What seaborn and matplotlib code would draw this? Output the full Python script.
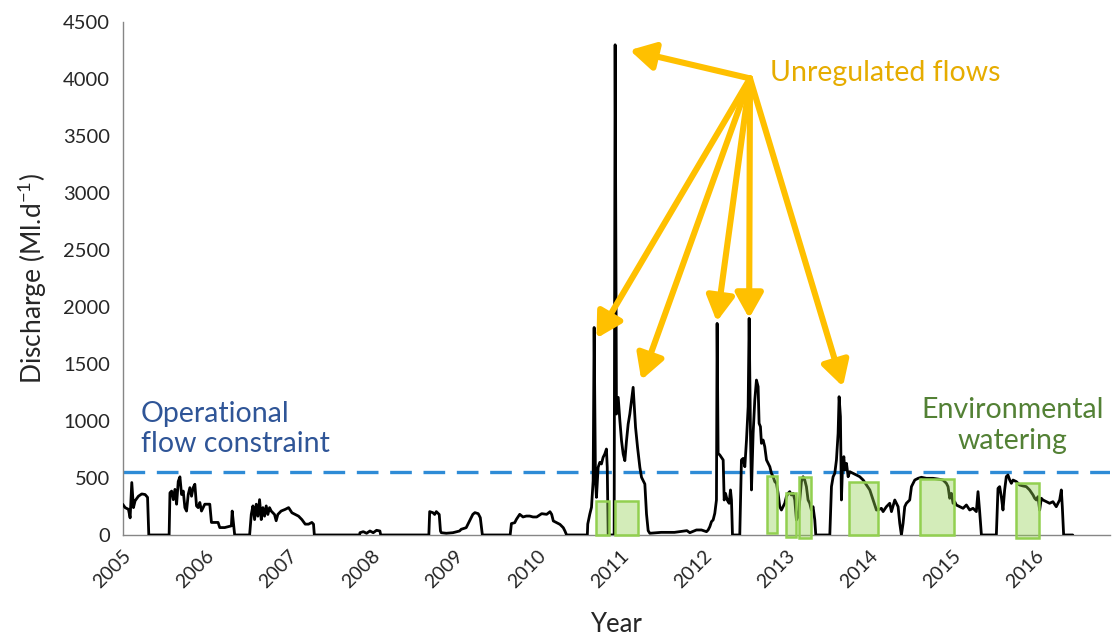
import numpy as np
import pandas as pd
import matplotlib
matplotlib.use("Agg")
import matplotlib.pyplot as plt
import seaborn as sns

# discharge series (decimal year, Ml/d)
flow_year = [
    2005.00, 2005.03, 2005.07, 2005.09, 2005.11, 2005.13, 2005.15, 2005.19, 2005.23, 2005.27,
    2005.30, 2005.315, 2005.56, 2005.57, 2005.59, 2005.61, 2005.63, 2005.65, 2005.67, 2005.69,
    2005.71, 2005.73, 2005.75, 2005.77, 2005.79, 2005.81, 2005.83, 2005.85, 2005.87, 2005.89,
    2005.91, 2005.93, 2005.95, 2005.99, 2006.05, 2006.07, 2006.15, 2006.17, 2006.23, 2006.31,
    2006.32, 2006.34, 2006.35, 2006.53, 2006.55, 2006.57, 2006.59, 2006.61, 2006.63, 2006.65,
    2006.67, 2006.69, 2006.71, 2006.73, 2006.75, 2006.77, 2006.79, 2006.83, 2006.85, 2006.87,
    2006.91, 2006.96, 2007.00, 2007.04, 2007.08, 2007.12, 2007.16, 2007.20, 2007.24, 2007.28,
    2007.30, 2007.31, 2007.855, 2007.86, 2007.90, 2007.94, 2007.98, 2008.02, 2008.06, 2008.10,
    2008.11, 2008.69, 2008.70, 2008.74, 2008.76, 2008.78, 2008.815, 2008.83, 2008.84, 2008.90,
    2008.98, 2009.06, 2009.08, 2009.14, 2009.18, 2009.22, 2009.245, 2009.285, 2009.31, 2009.335,
    2009.67, 2009.685, 2009.725, 2009.745, 2009.785, 2009.825, 2009.865, 2009.905, 2009.945, 2009.99,
    2010.05, 2010.11, 2010.15, 2010.17, 2010.19, 2010.23, 2010.27, 2010.31, 2010.33, 2010.35,
    2010.60, 2010.605, 2010.63, 2010.65, 2010.67, 2010.682, 2010.698, 2010.71, 2010.73, 2010.75,
    2010.77, 2010.79, 2010.81, 2010.83, 2010.84, 2010.851, 2010.923, 2010.935, 2010.951, 2010.972,
    2010.992, 2011.012, 2011.032, 2011.052, 2011.072, 2011.092, 2011.112, 2011.132, 2011.152, 2011.164,
    2011.181, 2011.205, 2011.233, 2011.253, 2011.273, 2011.293, 2011.313, 2011.333, 2011.353, 2011.49,
    2011.65, 2011.80, 2011.835, 2011.915, 2011.975, 2012.036, 2012.056, 2012.076, 2012.096, 2012.116,
    2012.136, 2012.156, 2012.164, 2012.176, 2012.196, 2012.237, 2012.249, 2012.265, 2012.285, 2012.309,
    2012.325, 2012.337, 2012.349, 2012.437, 2012.457, 2012.478, 2012.498, 2012.518, 2012.538, 2012.550,
    2012.566, 2012.578, 2012.598, 2012.618, 2012.638, 2012.658, 2012.670, 2012.686, 2012.698, 2012.718,
    2012.738, 2012.759, 2012.779, 2012.799, 2012.819, 2012.839, 2012.859, 2012.879, 2012.899, 2012.919,
    2012.939, 2012.959, 2012.979, 2012.999, 2013.019, 2013.039, 2013.059, 2013.080, 2013.100, 2013.120,
    2013.140, 2013.160, 2013.180, 2013.200, 2013.220, 2013.240, 2013.260, 2013.280, 2013.300, 2013.320,
    2013.341, 2013.353, 2013.522, 2013.542, 2013.562, 2013.582, 2013.602, 2013.622, 2013.634, 2013.650,
    2013.662, 2013.675, 2013.691, 2013.703, 2013.723, 2013.743, 2013.763, 2013.803, 2013.843, 2013.883,
    2013.924, 2013.964, 2014.004, 2014.024, 2014.044, 2014.064, 2014.084, 2014.104, 2014.144, 2014.164,
    2014.204, 2014.244, 2014.265, 2014.305, 2014.345, 2014.365, 2014.385, 2014.405, 2014.425, 2014.445,
    2014.485, 2014.506, 2014.526, 2014.546, 2014.586, 2014.626, 2014.686, 2014.766, 2014.847, 2014.887,
    2014.927, 2014.947, 2014.967, 2014.987, 2015.007, 2015.027, 2015.047, 2015.088, 2015.128, 2015.168,
    2015.208, 2015.248, 2015.288, 2015.308, 2015.328, 2015.349, 2015.529, 2015.549, 2015.569, 2015.589,
    2015.609, 2015.629, 2015.649, 2015.669, 2015.690, 2015.710, 2015.730, 2015.770, 2015.810, 2015.850,
    2015.890, 2015.930, 2015.971, 2015.991, 2016.011, 2016.031, 2016.051, 2016.071, 2016.091, 2016.131,
    2016.171, 2016.211, 2016.251, 2016.292, 2016.312, 2016.324, 2016.340, 2016.45,
]
flow_ml = [
    270, 240, 225, 150, 460, 240, 300, 340, 360, 355,
    330, 0, 0, 370, 385, 310, 400, 270, 470, 510,
    355, 385, 240, 210, 355, 415, 340, 415, 445, 255,
    240, 285, 210, 270, 270, 110, 110, 65, 65, 80,
    210, 65, 0, 0, 180, 255, 135, 270, 165, 310,
    135, 240, 165, 255, 180, 240, 210, 180, 125, 180,
    210, 225, 240, 195, 180, 165, 135, 95, 95, 110,
    95, 0, 0, 20, 29, 15, 35, 20, 41, 35,
    0, 0, 205, 195, 180, 205, 180, 35, 20, 15,
    20, 35, 50, 64, 123, 181, 196, 187, 152, 0,
    0, 100, 108, 137, 181, 158, 166, 166, 158, 158,
    187, 181, 204, 181, 123, 108, 93, 64, 35, 0,
    0, 96, 184, 243, 476, 1820, 476, 330, 593, 637,
    623, 681, 710, 754, 593, 0, 0, 4300, 1061, 1207,
    1003, 827, 710, 652, 827, 973, 1061, 1178, 1295, 1149,
    944, 769, 593, 506, 476, 447, 184, 38, 15, 23,
    23, 38, 20, 44, 44, 29, 44, 73, 117, 132,
    190, 307, 1856, 716, 702, 658, 307, 365, 307, 278,
    395, 307, 0, 0, 658, 672, 599, 833, 1125, 1900,
    891, 395, 891, 1184, 1359, 1301, 979, 950, 804, 833,
    775, 658, 628, 599, 541, 511, 468, 453, 365, 248,
    219, 248, 278, 336, 365, 380, 351, 365, 307, 132,
    161, 307, 468, 511, 482, 424, 307, 278, 219, 248,
    132, 0, 0, 424, 511, 541, 658, 891, 1213, 1038,
    307, 599, 687, 570, 628, 511, 555, 541, 526, 511,
    482, 438, 395, 351, 307, 263, 219, 219, 234, 205,
    248, 278, 205, 307, 248, 102, 0, 102, 248, 278,
    307, 424, 453, 482, 497, 506, 497, 497, 488, 482,
    453, 424, 322, 365, 278, 292, 263, 248, 234, 263,
    219, 234, 205, 380, 205, 0, 0, 409, 424, 336,
    219, 395, 512, 526, 482, 453, 482, 468, 438, 430,
    424, 395, 351, 322, 307, 336, 219, 322, 307, 292,
    278, 292, 248, 307, 395, 248, 0, 0,
]

constraint_ml = 550

# environmental watering events (boxes)
env_start = [2010.70, 2010.93, 2012.76, 2013.00, 2013.15, 2013.75, 2014.61, 2015.77]
env_end = [2010.86, 2011.21, 2012.89, 2013.12, 2013.29, 2014.10, 2015.02, 2016.04]
env_low = [0, 0, 20, -15, -25, 0, 0, -25]
env_high = [300, 300, 520, 370, 510, 465, 490, 460]

# unregulated flow arrows: common origin and the peaks they point at
arrow_origin = (2012.56, 4005)
arrow_tip_year = [2011.11, 2010.71, 2011.25, 2012.16, 2012.55, 2013.68]
arrow_tip_ml = [4253, 1725, 1359, 1871, 1900, 1301]

year_ticks = list(range(2005, 2017))
y_ticks = list(range(0, 4501, 500))

sns.set_style("white")
plt.rcParams["font.family"] = ["Lato", "DejaVu Sans"]

fig = plt.figure(figsize=(11.12, 6.41), dpi=100)
ax = fig.add_axes([0.1103, 0.1654, 0.888, 0.8003])

df = pd.DataFrame({"year": flow_year, "discharge": flow_ml})
sns.lineplot(data=df, x="year", y="discharge", ax=ax, color="black",
             linewidth=2.0, estimator=None, sort=False, zorder=3)

ax.axhline(constraint_ml, color="#2e8bd6", lw=2.4, dashes=(6.5, 3.5), zorder=2)

env = pd.DataFrame({"start": env_start, "end": env_end, "low": env_low, "high": env_high})
bars = ax.bar(env["start"], env["high"] - env["low"], width=env["end"] - env["start"],
              bottom=env["low"], align="edge", color="#92d050", alpha=0.4,
              edgecolor="none", zorder=4)
edges = ax.bar(env["start"], env["high"] - env["low"], width=env["end"] - env["start"],
               bottom=env["low"], align="edge", facecolor="none",
               edgecolor="#92d050", linewidth=1.8, zorder=5)
for b in list(bars) + list(edges):
    b.set_clip_on(False)

for tx, ty in zip(arrow_tip_year, arrow_tip_ml):
    ax.annotate("", xy=(tx, ty), xytext=arrow_origin,
                arrowprops=dict(arrowstyle="-|>,head_length=0.5,head_width=0.28",
                                color="#ffc000", lw=4.4, mutation_scale=30,
                                shrinkA=0, shrinkB=0),
                zorder=6)

ax.text(2012.80, 4052, "Unregulated flows", color="#e6ac00", fontsize=20.5,
        ha="left", va="center")
ax.text(2005.22, 930, "Operational\nflow constraint", color="#2f5597", fontsize=20.5,
        ha="left", va="center", linespacing=1.2)
ax.text(2015.72, 960, "Environmental\nwatering", color="#538135", fontsize=20.5,
        ha="center", va="center", linespacing=1.25)

ax.set_xlim(2005, 2016.9)
ax.set_ylim(0, 4500)
ax.set_xticks(year_ticks)
ax.set_xticklabels([str(y) for y in year_ticks], rotation=45, ha="right",
                   rotation_mode="anchor", fontsize=14, color="#262626")
ax.set_yticks(y_ticks)
ax.set_yticklabels([str(v) for v in y_ticks], fontsize=14.5, color="#262626")
ax.tick_params(axis="both", direction="out", length=5, width=1, color="#868686", pad=4)

for side in ["top", "right"]:
    ax.spines[side].set_visible(False)
for side in ["left", "bottom"]:
    ax.spines[side].set_color("#868686")
    ax.spines[side].set_linewidth(1)

ax.set_xlabel("Year", fontsize=18.5, labelpad=15)
ax.set_ylabel("Discharge (Ml.d$^{\\mathregular{-1}}$)", fontsize=19, labelpad=10)

fig.savefig("out.png", dpi=100)
